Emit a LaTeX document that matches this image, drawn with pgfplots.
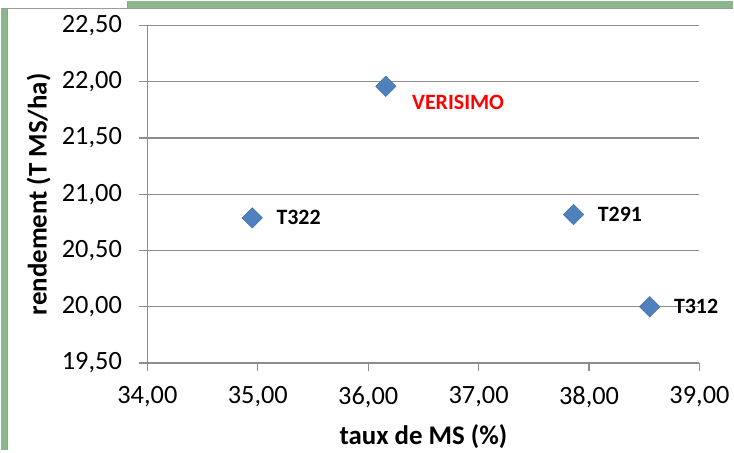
\documentclass[border=0pt]{standalone}
\usepackage{pgfplots}
\pgfplotsset{compat=1.18}
\usepackage{fontspec}
\setmainfont{Carlito}
\definecolor{frameg}{RGB}{140,182,139}
\definecolor{bordg}{RGB}{155,153,158}
\definecolor{gridg}{RGB}{140,140,140}
\definecolor{mblue}{RGB}{79,129,189}
\definecolor{lred}{RGB}{255,0,0}
\begin{document}
\begin{tikzpicture}[x=1bp,y=1bp]
\fill[frameg] (0,0) rectangle (734,450);
\fill[white] (0,443) rectangle (127,450);
\fill[white] (7,0) rectangle (734,442);
\draw[bordg, line width=1.2bp] (0,442) -- (734,442);
\draw[bordg, line width=1.2bp] (127,442) -- (127,450);
\draw[bordg, line width=1.2bp] (7,0) -- (7,442);
\begin{axis}[
  scale only axis, width=553bp, height=338bp,
  at={(147bp,87bp)}, anchor=south west,
  xmin=34, xmax=39, ymin=19.5, ymax=22.5,
  xtick={34,35,36,37,38,39},
  ytick={19.5,20,20.5,21,21.5,22,22.5},
  axis x line=bottom, axis y line=left,
  axis line style={gridg, line width=1.3bp, -},
  ymajorgrids, grid style={gridg, line width=1.3bp},
  tick align=outside, major tick length=8bp,
  tick style={gridg, line width=1.3bp},
  /pgf/number format/assume math mode=true,
  /pgf/number format/.cd, fixed, fixed zerofill, precision=2, use comma,
  /pgfplots/.cd,
  tick label style={font=\fontsize{26.5}{26.5}\selectfont, black},
  xticklabel style={yshift=-12bp},
  yticklabel style={xshift=-14bp},
  xlabel={\textbf{taux de MS (\%)}},
  ylabel={\textbf{rendement (T MS/ha)}},
  every axis x label/.style={at={(axis description cs:0.5,-0.219)}, anchor=center, font=\fontsize{27}{27}\selectfont},
  every axis y label/.style={at={(axis description cs:-0.197,0.5)}, rotate=90, anchor=center, font=\fontsize{27}{27}\selectfont},
  clip=false,
]
\addplot[only marks, mark=square*, mark size=7.2bp, mark options={rotate=45, fill=mblue, draw=mblue!90!black, line width=0.6bp},
  nodes near coords, point meta=explicit symbolic,
  nodes near coords style={anchor=west, inner sep=0pt, xshift=24bp, font=\fontsize{22}{22}\selectfont\bfseries, black}]
  table[meta=label] {
x y label
34.95 20.79 T322
37.86 20.82 T291
38.55 20.00 T312
};
\addplot[only marks, mark=square*, mark size=7.2bp, mark options={rotate=45, fill=mblue, draw=mblue!90!black, line width=0.6bp},
  nodes near coords, point meta=explicit symbolic,
  nodes near coords style={anchor=west, inner sep=0pt, xshift=26bp, yshift=-16bp, font=\fontsize{22}{22}\selectfont\bfseries, lred}]
  table[meta=label] {
x y label
36.16 21.96 VERISIMO
};
\end{axis}
\end{tikzpicture}
\end{document}
